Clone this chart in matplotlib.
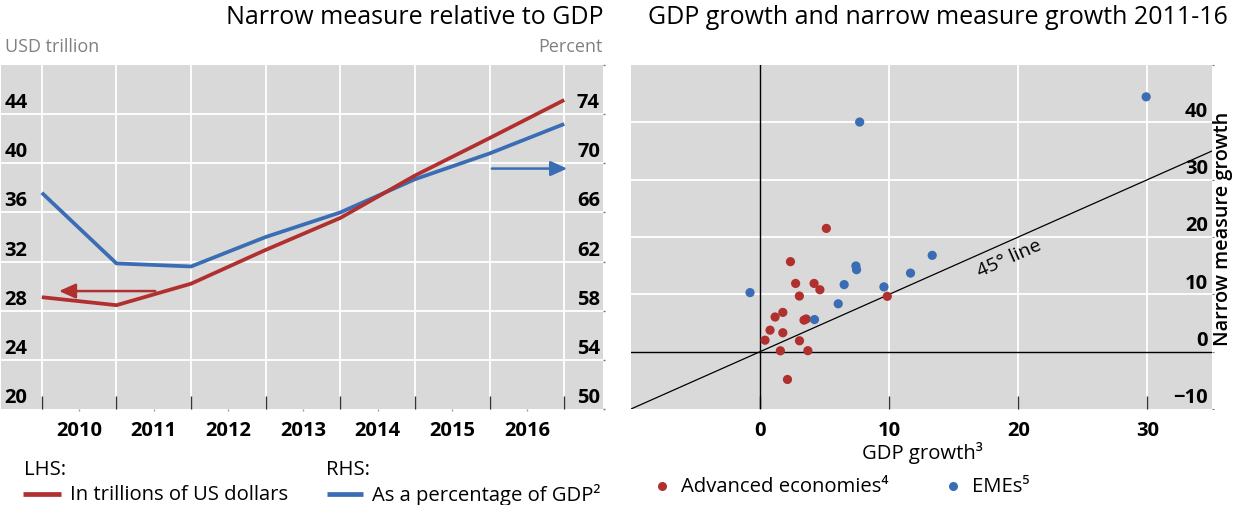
import matplotlib
matplotlib.use('Agg')
import matplotlib.pyplot as plt
import matplotlib.transforms as mtransforms
from matplotlib.lines import Line2D

plt.rcParams['font.family'] = ['Open Sans', 'DejaVu Sans']

# ---------------- data ----------------
years = ['2010', '2011', '2012', '2013', '2014', '2015', '2016']
usd_trillion = [29.1, 28.45, 30.2, 32.95, 35.55, 39.0, 42.05, 45.15]
pct_gdp = [67.6, 61.85, 61.6, 64.0, 66.0, 68.7, 70.8, 73.2]
lhs_ticks = [20, 24, 28, 32, 36, 40, 44]
rhs_ticks = [50, 54, 58, 62, 66, 70, 74]

adv_gdp = [5.13, 2.35, 2.75, 4.18, 4.63, 3.04, 9.85, 1.76, 1.16, 3.4, 3.57,
           0.77, 1.76, 0.38, 3.05, 1.57, 3.7, 2.12]
adv_narrow = [21.5, 15.7, 11.9, 11.9, 10.8, 9.7, 9.65, 6.85, 6.05, 5.5, 5.7,
              3.75, 3.3, 2.0, 1.9, 0.15, 0.17, -4.85]
eme_gdp = [-0.78, 4.21, 6.05, 6.51, 7.42, 7.47, 9.59, 11.65, 13.33, 7.71, 29.9]
eme_narrow = [10.3, 5.6, 8.35, 11.7, 14.95, 14.3, 11.3, 13.7, 16.8, 40.05, 44.45]
x_ticks_r = [0, 10, 20, 30]
y_ticks_r = [-10, 0, 10, 20, 30, 40]

RED = '#b0302f'
BLUE = '#3a6db4'
BG = '#d9d9d9'
TICKC = '#333333'

W, H = 1236, 506
fig = plt.figure(figsize=(W / 100, H / 100), dpi=100)


def rect(x0, y0, x1, y1):
    return [x0 / W, 1 - y1 / H, (x1 - x0) / W, (y1 - y0) / H]


def off(dx, dy):
    return mtransforms.ScaledTranslation(dx / 100, dy / 100, fig.dpi_scale_trans)


TICK_FS = 14.5
TICK_W = 'bold'
LEG_FS = 14.6
TITLE_FS = 18

# ---------------- left panel ----------------
axL = fig.add_axes(rect(1, 66, 603, 410))
axL.set_facecolor(BG)
axL.set_xlim(-0.547, 7.52)
axL.set_ylim(20, 48)
for s in axL.spines.values():
    s.set_visible(False)
xpos = list(range(len(usd_trillion)))
for x in xpos:
    axL.axvline(x, color='white', lw=1.3, zorder=1)
for y in lhs_ticks[1:]:
    axL.axhline(y, color='white', lw=1.3, zorder=1)
axL.set_xticks(xpos)
axL.set_xticks([i + 0.5 for i in range(len(years))], minor=True)
axL.tick_params(axis='x', which='major', direction='in', length=9.5, width=1.0,
                color=TICKC, labelbottom=False)
axL.tick_params(axis='x', which='minor', direction='out', length=1.5, width=1.0,
                color='#999999', labelbottom=False)
axL.set_yticks(lhs_ticks)
axL.tick_params(axis='y', length=0, labelleft=False)

ax2 = axL.twinx()
ax2.set_ylim(50, 78)
for s in ax2.spines.values():
    s.set_visible(False)
ax2.set_yticks(rhs_ticks + [78])
ax2.tick_params(axis='y', direction='out', length=1.5, width=1, color='#777777',
                labelright=False)

ax2.plot(xpos, pct_gdp, color=BLUE, lw=2.7, zorder=3, solid_capstyle='butt',
         solid_joinstyle='miter')
ax2.plot(xpos, usd_trillion, color=RED, lw=2.7, zorder=4, transform=axL.transData,
         solid_capstyle='butt', solid_joinstyle='miter')

# arrows
axL.annotate('', xy=(0.23, 29.6), xytext=(1.52, 29.6),
             arrowprops=dict(arrowstyle='-|>,head_length=1.0,head_width=0.45',
                             color=RED, lw=1.8, shrinkA=0, shrinkB=0), zorder=5)
ax2.annotate('', xy=(7.04, 69.57), xytext=(6.03, 69.57),
             arrowprops=dict(arrowstyle='-|>,head_length=1.0,head_width=0.45',
                             color=BLUE, lw=1.8, shrinkA=0, shrinkB=0), zorder=5)

tL = mtransforms.blended_transform_factory(axL.transAxes, axL.transData)
for v in lhs_ticks:
    axL.text(0.006, v, str(v), transform=tL + off(0, 12), ha='left', va='center',
             fontsize=TICK_FS, fontweight=TICK_W, color='black', zorder=6)
tR = mtransforms.blended_transform_factory(ax2.transAxes, ax2.transData)
for v in rhs_ticks:
    ax2.text(0.995, v, str(v), transform=tR + off(0, 12), ha='right', va='center',
             fontsize=TICK_FS, fontweight=TICK_W, color='black', zorder=6)
tX = mtransforms.blended_transform_factory(axL.transData, axL.transAxes)
for i, lab in enumerate(years):
    axL.text(i + 0.5, 0, lab, transform=tX + off(0, -21), ha='center', va='center',
             fontsize=TICK_FS, fontweight=TICK_W, color='black', clip_on=False)

fig.text(603 / W, 1 - 18 / H, 'Narrow measure relative to GDP', ha='right',
         va='center', fontsize=TITLE_FS, color='black')
fig.text(5 / W, 1 - 47 / H, 'USD trillion', ha='left', va='center',
         fontsize=13, color='#808080')
fig.text(603 / W, 1 - 47 / H, 'Percent', ha='right', va='center',
         fontsize=13, color='#808080')

# left legend
fig.text(24 / W, 1 - 470 / H, 'LHS:', ha='left', va='center', fontsize=LEG_FS)
fig.add_artist(Line2D([23 / W, 61 / W], [1 - 495 / H] * 2, color=RED, lw=3.4,
                      solid_capstyle='butt'))
fig.text(70 / W, 1 - 495 / H, 'In trillions of US dollars', ha='left',
         va='center', fontsize=LEG_FS)
fig.text(326 / W, 1 - 470 / H, 'RHS:', ha='left', va='center', fontsize=LEG_FS)
fig.add_artist(Line2D([327 / W, 363 / W], [1 - 495 / H] * 2, color=BLUE, lw=3.4,
                      solid_capstyle='butt'))
fig.text(372 / W, 1 - 495 / H, 'As a percentage of GDP\u00b2', ha='left',
         va='center', fontsize=LEG_FS)

# ---------------- right panel ----------------
axR = fig.add_axes(rect(631, 66, 1212, 410))
axR.set_facecolor(BG)
axR.set_xlim(-10, 35)
axR.set_ylim(-10, 50)
for s in axR.spines.values():
    s.set_visible(False)
for x in x_ticks_r[1:]:
    axR.axvline(x, color='white', lw=1.3, zorder=1)
for y in y_ticks_r[2:]:
    axR.axhline(y, color='white', lw=1.3, zorder=1)
axR.axvline(0, color='black', lw=1.0, zorder=2)
axR.axhline(0, color='black', lw=1.0, zorder=2)
axR.axline((0, 0), slope=1, color='black', lw=0.9, zorder=2)
axR.set_xticks(x_ticks_r)
axR.tick_params(axis='x', direction='in', length=9.5, width=1.0, color=TICKC,
                labelbottom=False)
axR.set_yticks(y_ticks_r + [50])
axR.tick_params(axis='y', left=False, right=True, direction='out', length=1.5,
                color='#777777', labelleft=False, labelright=False)

axR.scatter(adv_gdp, adv_narrow, s=44, color=RED, edgecolors='none', zorder=4)
axR.scatter(eme_gdp, eme_narrow, s=44, color=BLUE, edgecolors='none', zorder=4)

axR.text(19.3, 16.4, '45° line', rotation=45, transform_rotates_text=True,
         ha='center', va='center', rotation_mode='anchor', fontsize=14,
         color='black', zorder=5)

tRy = mtransforms.blended_transform_factory(axR.transAxes, axR.transData)
for v in y_ticks_r:
    lab = str(v).replace('-', '\u2212')
    axR.text(0.993, v, lab, transform=tRy + off(0, 11.5), ha='right', va='center',
             fontsize=TICK_FS, fontweight=TICK_W, color='black', zorder=6)
tRx = mtransforms.blended_transform_factory(axR.transData, axR.transAxes)
for v in x_ticks_r:
    axR.text(v, 0, str(v), transform=tRx + off(0, -21), ha='center', va='center',
             fontsize=TICK_FS, fontweight=TICK_W, color='black', clip_on=False)

fig.text(922 / W, 1 - 453 / H, 'GDP growth\u00b3', ha='center', va='center',
         fontsize=LEG_FS)
fig.text(1223 / W, 1 - 229 / H, 'Narrow measure growth', ha='center', va='center',
         rotation=90, fontsize=14.3, fontweight='semibold')
fig.text(648 / W, 1 - 18 / H, 'GDP growth and narrow measure growth 2011-16',
         ha='left', va='center', fontsize=TITLE_FS, color='black')

# right legend
fig.add_artist(Line2D([662 / W], [1 - 487 / H], marker='o', markersize=6.5,
                      color=RED, markeredgewidth=0, linestyle='none'))
fig.text(681 / W, 1 - 487 / H, 'Advanced economies\u2074', ha='left',
         va='center', fontsize=LEG_FS)
fig.add_artist(Line2D([953 / W], [1 - 487 / H], marker='o', markersize=6.5,
                      color=BLUE, markeredgewidth=0, linestyle='none'))
fig.text(972 / W, 1 - 487 / H, 'EMEs\u2075', ha='left', va='center',
         fontsize=LEG_FS)

fig.savefig('out.png', dpi=100)
